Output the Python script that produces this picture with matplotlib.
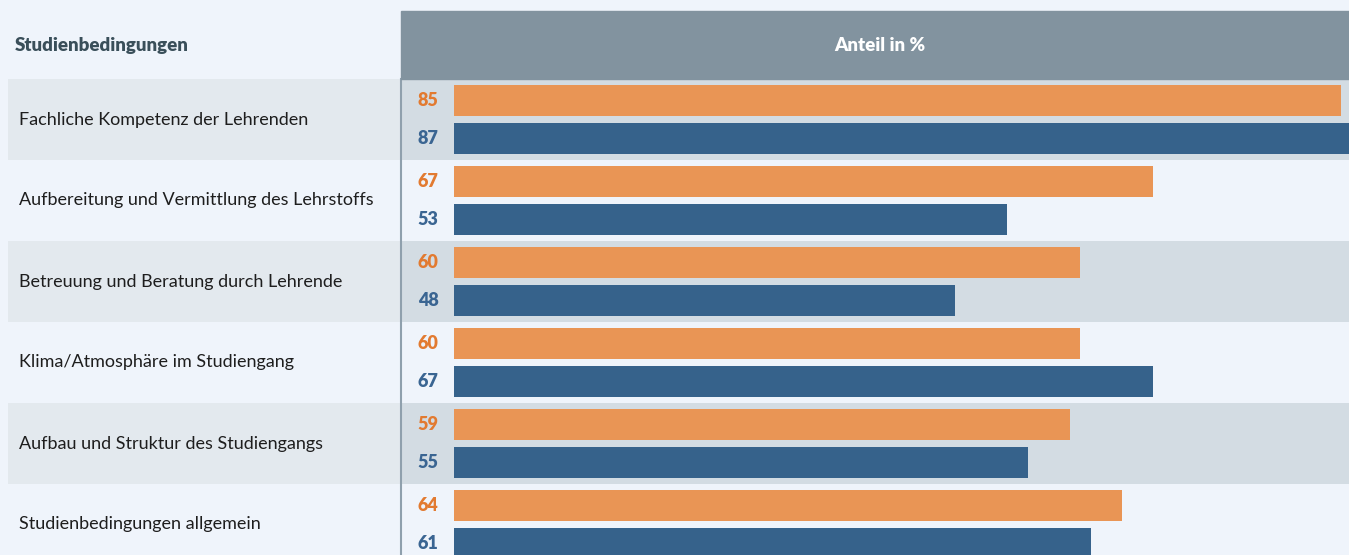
import matplotlib.pyplot as plt
from matplotlib.patches import Rectangle

categories = [
    "Fachliche Kompetenz der Lehrenden",
    "Aufbereitung und Vermittlung des Lehrstoffs",
    "Betreuung und Beratung durch Lehrende",
    "Klima/Atmosphäre im Studiengang",
    "Aufbau und Struktur des Studiengangs",
    "Studienbedingungen allgemein",
]
values_orange = [85, 67, 60, 60, 59, 64]
values_blue = [87, 53, 48, 67, 55, 61]

title_left = "Studienbedingungen"
title_right = "Anteil in %"

bg = "#eff4fb"
orange = "#e99555"
blue = "#36628b"
orange_txt = "#e27a30"
blue_txt = "#3a6592"

W, H = 1349, 555
fig = plt.figure(figsize=(W / 100, H / 100), dpi=100)
fig.patch.set_facecolor(bg)
plt.rcParams['font.family'] = ['Lato', 'DejaVu Sans']

def fx(px):
    return px / W

def fy(py):
    return 1 - py / H

# geometry (pixels)
top, row_h = 79, 81
split_x, bar0_x = 401, 454
px_per_unit = (1341 - 454) / 85
n_visible = (H - top) / row_h

# header
fig.patches.append(Rectangle((fx(split_x), fy(79)), fx(W - split_x), 68 / H,
                             transform=fig.transFigure, color="#82939f", zorder=0))
fig.text(fx(15), fy(45), title_left, fontsize=13.5, fontweight="heavy",
         color="#3a4f5a", va="center", ha="left")
fig.text(fx(880), fy(45), title_right, fontsize=13.5, fontweight="heavy",
         color="white", va="center", ha="center")

# left label axes
axl = fig.add_axes([fx(8), 0, fx(split_x - 8), fy(top)])
axl.set_xlim(0, 1)
axl.set_ylim(n_visible, 0)
axl.axis("off")
for i, cat in enumerate(categories):
    if i % 2 == 0:
        axl.axhspan(i, i + 1, color="#e3e9ee", lw=0)
    axl.text(11 / (split_x - 8), i + 0.5, cat, fontsize=13, color="#1e1e1e",
             va="center", ha="left")

# bar axes
ax = fig.add_axes([fx(split_x), 0, fx(W - split_x), fy(top)])
ax.set_facecolor(bg)
ax.set_xlim(-(bar0_x - split_x) / px_per_unit, (W - bar0_x) / px_per_unit)
ax.set_ylim(n_visible, 0)
for s in ax.spines.values():
    s.set_visible(False)
ax.spines["left"].set_visible(True)
ax.spines["left"].set_color("#8fa0ad")
ax.spines["left"].set_linewidth(1.5)
ax.set_xticks([])
ax.set_yticks([])

bar_h = 31 / row_h
off_o = 21.5 / row_h
off_b = 59.5 / row_h
lab_x = (428 - bar0_x) / px_per_unit
for i in range(len(categories)):
    if i % 2 == 0:
        ax.axhspan(i, i + 1, color="#d3dce3", lw=0, zorder=0)
ys = list(range(len(categories)))
ax.barh([y + off_o for y in ys], values_orange, height=bar_h, color=orange, zorder=2)
ax.barh([y + off_b for y in ys], values_blue, height=bar_h, color=blue, zorder=2)
for y, vo, vb in zip(ys, values_orange, values_blue):
    ax.text(lab_x, y + off_o, str(vo), color=orange_txt, fontsize=13,
            fontweight="heavy", ha="center", va="center")
    ax.text(lab_x, y + off_b, str(vb), color=blue_txt, fontsize=13,
            fontweight="heavy", ha="center", va="center")

fig.savefig("out.png", dpi=100, facecolor=bg)
